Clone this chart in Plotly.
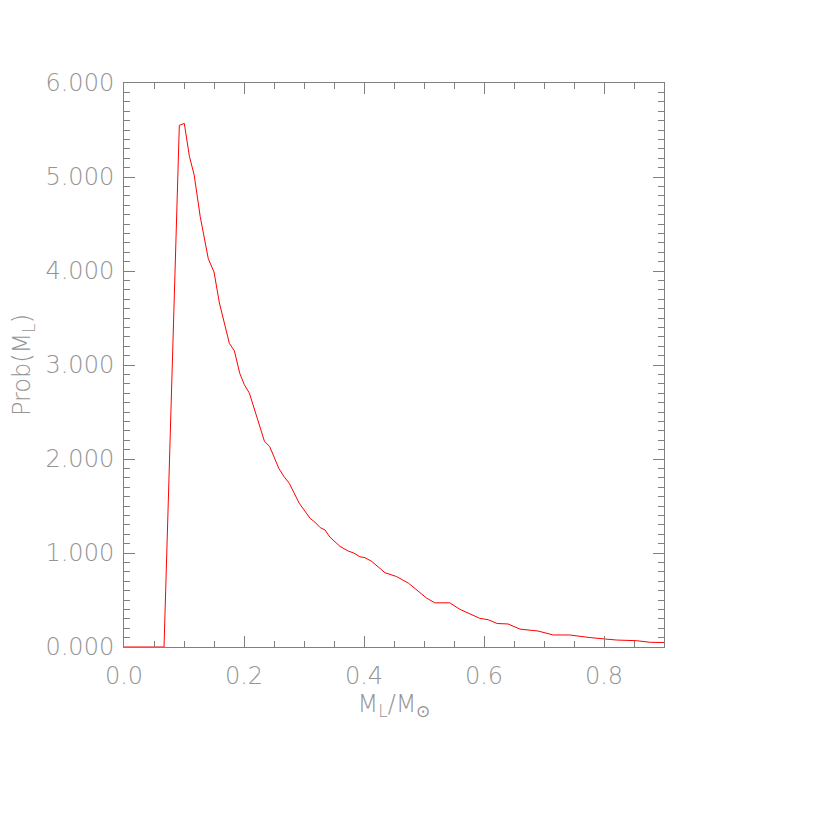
import plotly.graph_objects as go

# Data
mass = [0.0, 0.0667, 0.0922, 0.1005, 0.109, 0.117, 0.127, 0.1405, 0.150, 0.159,
        0.1756, 0.184, 0.193, 0.2006, 0.209, 0.221, 0.234, 0.243, 0.258, 0.267,
        0.2756, 0.292, 0.310, 0.318, 0.327, 0.335, 0.343, 0.360, 0.374, 0.383,
        0.393, 0.4017, 0.413, 0.435, 0.443, 0.454, 0.474, 0.4906, 0.5044, 0.518,
        0.543, 0.560, 0.577, 0.593, 0.607, 0.622, 0.640, 0.660, 0.690, 0.7156,
        0.743, 0.777, 0.821, 0.8545, 0.877, 0.900]
prob = [0.0, 0.0, 5.55, 5.57, 5.22, 5.02, 4.58, 4.13, 3.99, 3.66,
        3.23, 3.15, 2.91, 2.79, 2.70, 2.45, 2.19, 2.13, 1.90, 1.81,
        1.74, 1.53, 1.37, 1.33, 1.27, 1.245, 1.17, 1.07, 1.02, 1.00,
        0.96, 0.95, 0.91, 0.79, 0.77, 0.75, 0.68, 0.59, 0.52, 0.47,
        0.47, 0.40, 0.35, 0.305, 0.29, 0.25, 0.245, 0.19, 0.17, 0.128,
        0.128, 0.10, 0.074, 0.067, 0.05, 0.048]

GRAY = "#808080"
TXT = "#949494"
FONT = dict(family="DejaVu Sans ExtraLight, DejaVu Sans", size=24, color=TXT, weight=200)

fig = go.Figure()
fig.add_trace(go.Scatter(x=mass, y=prob, mode="lines",
                         line=dict(color="#ff0000", width=1),
                         showlegend=False, cliponaxis=True))

axis_common = dict(showline=True, linecolor=GRAY, linewidth=1, mirror="ticks",
                   ticks="inside", tickcolor=GRAY, tickwidth=1, ticklen=11,
                   showgrid=False, zeroline=False, tickfont=FONT, automargin=False)

fig.update_xaxes(range=[0, 0.9], dtick=0.2, tick0=0, tickformat=".1f",
                 minor=dict(dtick=0.05, ticks="inside", ticklen=6, tickcolor=GRAY, showgrid=False),
                 title=dict(text="M<sub>L</sub>/M<sub>⊙</sub>", font=FONT, standoff=6),
                 ticklabelstandoff=7,
                 **axis_common)
fig.update_yaxes(range=[0, 6], dtick=1, tick0=0, tickformat=".3f",
                 minor=dict(dtick=0.1, ticks="inside", ticklen=6, tickcolor=GRAY, showgrid=False),
                 title=dict(text="Prob(M<sub>L</sub>)", font=FONT, standoff=36),
                 ticklabelstandoff=4,
                 **axis_common)

fig.update_layout(width=830, height=830, autosize=False,
                  margin=dict(l=116, r=174, t=75, b=191),
                  paper_bgcolor="white", plot_bgcolor="white",
                  font=FONT)

fig.write_html("out.html")
